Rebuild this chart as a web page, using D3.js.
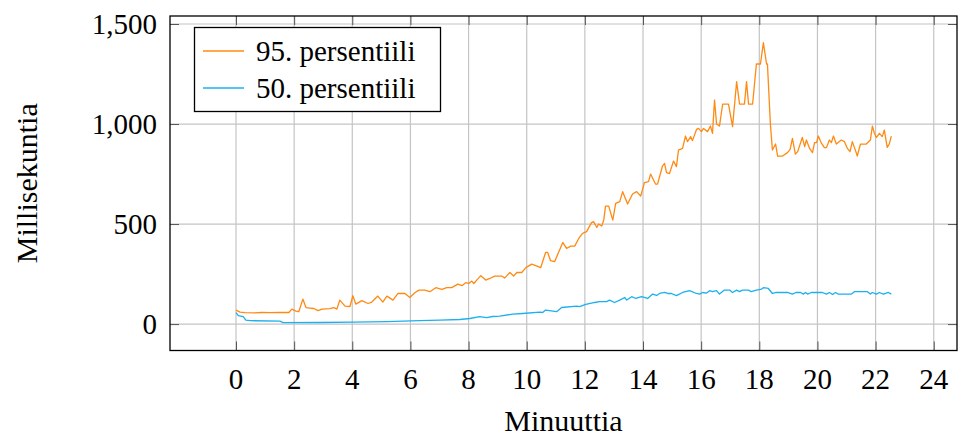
<!DOCTYPE html>
<html>
<head>
<meta charset="utf-8">
<script src="https://cdn.jsdelivr.net/npm/d3@7/dist/d3.min.js"></script>
<style>
  html, body { margin: 0; padding: 0; background: #fff; }
  svg { display: block; }
  text { font-family: "Liberation Serif", "DejaVu Serif", serif; fill: #000; }
</style>
</head>
<body>
<svg id="chart" width="959" height="439"></svg>
<script>
// Response times over the run, in minutes since start
const p95Minutes = [0.00,0.14,0.31,0.65,0.89,1.17,1.51,1.82,1.92,2.06,2.16,2.30,2.41,2.54,2.68,2.82,2.96,3.23,3.37,3.47,3.57,3.75,3.92,4.02,4.12,4.33,4.54,4.67,4.88,5.05,5.19,5.40,5.57,5.81,5.98,6.15,6.29,6.49,6.67,6.87,7.08,7.25,7.42,7.63,7.77,7.90,8.01,8.11,8.18,8.28,8.42,8.59,8.73,8.90,9.14,9.24,9.42,9.55,9.66,9.83,9.97,10.17,10.31,10.48,10.65,10.72,10.82,10.96,11.24,11.37,11.51,11.65,11.79,11.92,12.06,12.23,12.30,12.41,12.47,12.58,12.65,12.71,12.82,12.96,13.06,13.20,13.30,13.47,13.64,13.78,13.92,14.05,14.19,14.26,14.43,14.50,14.67,14.74,14.81,14.91,15.05,15.15,15.22,15.36,15.46,15.53,15.64,15.70,15.84,15.91,16.01,16.08,16.22,16.32,16.39,16.46,16.53,16.63,16.74,16.94,17.08,17.22,17.32,17.49,17.56,17.63,17.77,17.90,18.04,18.14,18.25,18.28,18.38,18.45,18.56,18.63,18.80,18.97,19.06,19.14,19.24,19.32,19.48,19.56,19.62,19.73,19.83,19.90,19.97,20.03,20.14,20.24,20.31,20.41,20.48,20.55,20.65,20.82,20.93,21.03,21.12,21.20,21.31,21.37,21.48,21.68,21.82,21.89,21.96,22.03,22.13,22.23,22.30,22.40,22.47,22.54];
const p95Values  = [70,60,57,56,58,57,58,58,75,65,62,125,82,80,78,67,75,77,82,75,120,90,88,142,100,117,103,110,140,110,140,120,153,153,133,157,170,170,162,182,173,182,182,200,192,207,203,215,203,220,242,220,228,240,240,230,258,240,258,258,282,300,292,282,358,358,317,312,408,378,390,390,428,453,462,507,512,483,500,490,520,590,590,520,603,612,662,600,650,662,640,707,712,750,700,700,790,803,757,752,815,787,870,878,940,912,937,917,973,978,962,978,962,990,953,1120,1000,990,1100,1100,987,1212,1100,1100,1212,1100,1100,1300,1300,1407,1300,1300,1003,870,900,840,840,857,873,928,850,862,933,887,920,878,857,907,907,940,903,882,882,920,907,940,900,920,912,878,862,912,867,840,900,900,920,990,953,933,953,937,970,883,900,940];

const p50Minutes = [0.00,0.08,0.25,0.34,0.48,1.51,1.62,2.89,4.02,5.19,6.32,7.01,7.70,8.04,8.38,8.62,8.83,9.07,9.52,9.86,10.45,10.55,10.65,11.03,11.20,11.72,11.82,12.03,12.34,12.51,12.75,12.85,13.02,13.20,13.37,13.44,13.61,13.75,13.95,14.16,14.33,14.47,14.57,14.74,14.85,14.98,15.15,15.36,15.60,15.84,15.95,16.05,16.19,16.29,16.39,16.53,16.63,16.80,16.98,17.08,17.22,17.32,17.42,17.63,17.72,17.90,18.08,18.14,18.31,18.45,18.59,18.97,19.14,19.26,19.42,19.52,19.59,19.66,19.79,20.17,20.31,20.41,20.52,20.62,20.72,21.17,21.27,21.72,21.82,21.89,22.03,22.13,22.27,22.44,22.54];
const p50Values  = [57,42,37,20,17,15,7,8,10,12,17,20,23,28,37,32,38,40,50,53,60,58,70,62,83,90,87,98,108,112,112,120,108,120,133,120,137,128,137,128,150,143,153,158,153,153,142,158,167,153,150,158,155,167,162,167,150,170,170,158,170,162,170,170,162,170,175,182,178,153,158,158,150,158,158,150,158,150,158,158,150,158,148,158,150,150,162,162,150,158,150,158,150,158,150];

const seriesNames = ["95. persentiili", "50. persentiili"];
const seriesColors = ["#ff8a12", "#1cb0ee"];
const xTicks = [0, 2, 4, 6, 8, 10, 12, 14, 16, 18, 20, 22, 24];
const yTicks = [0, 500, 1000, 1500];
const xTitle = "Minuuttia";
const yTitle = "Millisekuntia";

const svg = d3.select("#chart");
const plot = { left: 170, right: 957, top: 16, bottom: 350.5 };

const x = d3.scaleLinear().domain([-2.27, 24.8]).range([plot.left, plot.right]);
const y = d3.scaleLinear().domain([-132, 1540]).range([plot.bottom, plot.top]);

// Grid
const grid = svg.append("g").attr("stroke", "#c4c4c4").attr("stroke-width", 1.2);
grid.selectAll(".gx").data(xTicks).join("line")
  .attr("x1", d => x(d)).attr("x2", d => x(d))
  .attr("y1", plot.top).attr("y2", plot.bottom);
grid.selectAll(".gy").data(yTicks).join("line")
  .attr("x1", plot.left).attr("x2", plot.right)
  .attr("y1", d => y(d)).attr("y2", d => y(d));

// Inner tick marks on all four sides
const tickLen = 9;
const tickStyle = g => g.call(s => s.select(".domain").remove())
  .call(s => s.selectAll(".tick line").attr("stroke", "#555").attr("stroke-width", 1));

svg.append("g").attr("transform", `translate(0,${plot.bottom})`)
  .call(d3.axisBottom(x).tickValues(xTicks).tickSize(-tickLen).tickFormat(""))
  .call(tickStyle).selectAll("text").remove();
svg.append("g").attr("transform", `translate(0,${plot.top})`)
  .call(d3.axisTop(x).tickValues(xTicks).tickSize(-tickLen).tickFormat(""))
  .call(tickStyle).selectAll("text").remove();
svg.append("g").attr("transform", `translate(${plot.left},0)`)
  .call(d3.axisLeft(y).tickValues(yTicks).tickSize(-tickLen).tickFormat(""))
  .call(tickStyle).selectAll("text").remove();
svg.append("g").attr("transform", `translate(${plot.right},0)`)
  .call(d3.axisRight(y).tickValues(yTicks).tickSize(-tickLen).tickFormat(""))
  .call(tickStyle).selectAll("text").remove();

// Tick labels
const fmt = d3.format(",");
svg.append("g").selectAll("text").data(xTicks).join("text")
  .attr("x", d => x(d)).attr("y", 389)
  .attr("text-anchor", "middle").attr("font-size", 29)
  .text(d => d);
svg.append("g").selectAll("text").data(yTicks).join("text")
  .attr("x", 157).attr("y", d => y(d) + 10)
  .attr("text-anchor", "end").attr("font-size", 29)
  .text(d => fmt(d));

// Axis titles
svg.append("text").attr("x", (x(-2.27) + x(24.8)) / 2).attr("y", 431)
  .attr("text-anchor", "middle").attr("font-size", 30).text(xTitle);
svg.append("text").attr("transform", `translate(37,${(plot.top + plot.bottom) / 2}) rotate(-90)`)
  .attr("text-anchor", "middle").attr("font-size", 30).text(yTitle);

// Lines
const line = d3.line().x(d => x(d[0])).y(d => y(d[1]));
const series = [
  d3.zip(p95Minutes, p95Values),
  d3.zip(p50Minutes, p50Values)
];
svg.append("g").attr("fill", "none").attr("stroke-width", 1.3).attr("stroke-linejoin", "round")
  .selectAll("path").data(series).join("path")
  .attr("stroke", (d, i) => seriesColors[i])
  .attr("d", line);

// Frame
svg.append("rect")
  .attr("x", plot.left).attr("y", plot.top)
  .attr("width", plot.right - plot.left).attr("height", plot.bottom - plot.top)
  .attr("fill", "none").attr("stroke", "#000").attr("stroke-width", 1.3);

// Legend
const legend = svg.append("g");
legend.append("rect")
  .attr("x", 194.5).attr("y", 27.5).attr("width", 246).attr("height", 84)
  .attr("fill", "#fff").attr("stroke", "#000").attr("stroke-width", 1.3);
seriesNames.forEach((name, i) => {
  const cy = 51 + i * 37;
  legend.append("line")
    .attr("x1", 203).attr("x2", 244).attr("y1", cy).attr("y2", cy)
    .attr("stroke", seriesColors[i]).attr("stroke-width", 1.3);
  legend.append("text").attr("x", 256).attr("y", cy + 10)
    .attr("font-size", 29).text(name);
});
</script>
</body>
</html>
